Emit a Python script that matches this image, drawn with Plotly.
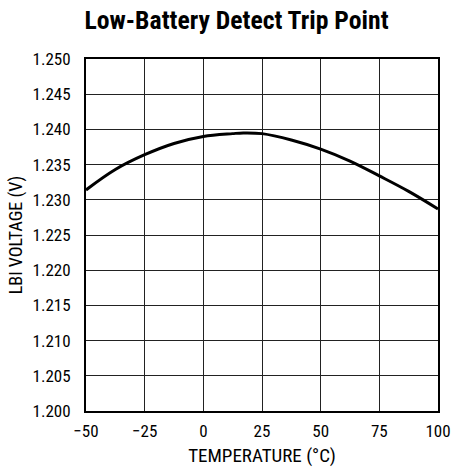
import plotly.graph_objects as go

temperature = [-50, -37.5, -25, -12.5, 0, 12.5, 17, 25, 37.5, 50, 62.5, 75, 87.5, 100]
lbi_voltage = [1.2314, 1.2343, 1.2364, 1.2380, 1.2390, 1.2394, 1.2395, 1.2394, 1.2385, 1.2372, 1.2355, 1.2334, 1.2312, 1.2287]

x_ticks = [-50, -25, 0, 25, 50, 75, 100]
x_ticklabels = ["\u221250", "\u221225", "0", "25", "50", "75", "100"]
y_ticks = [1.200, 1.205, 1.210, 1.215, 1.220, 1.225, 1.230, 1.235, 1.240, 1.245, 1.250]
y_ticklabels = ["%.3f" % v for v in y_ticks]

FONT = "Liberation Sans Narrow, Roboto Condensed, Arial Narrow, Roboto, sans-serif"

fig = go.Figure()
fig.add_trace(go.Scatter(
    x=temperature, y=lbi_voltage, mode="lines",
    line=dict(color="black", width=3, shape="spline", smoothing=1.0),
    showlegend=False, hoverinfo="skip"))

fig.update_layout(
    width=454, height=472,
    margin=dict(l=86, r=16, t=59, b=61, autoexpand=False),
    paper_bgcolor="white", plot_bgcolor="white",
    font=dict(family=FONT, size=17, color="black"),
    title=dict(text="<b>Low-Battery Detect Trip Point</b>", x=0.521, xanchor="center",
               y=1 - 20 / 472, yanchor="middle", font=dict(family=FONT, size=25.7, color="black")),
)
fig.update_xaxes(
    range=[-50, 100], tickmode="array", tickvals=x_ticks, ticktext=x_ticklabels,
    showgrid=True, gridcolor="#222", gridwidth=1,
    showline=True, linecolor="black", linewidth=2, mirror=True,
    ticks="", zeroline=False, tickfont=dict(size=17), ticklabelstandoff=4,
    automargin=False,
    title=dict(text="TEMPERATURE (\u00b0C)", font=dict(size=19), standoff=8),
)
fig.update_yaxes(
    range=[1.200, 1.250], tickmode="array", tickvals=y_ticks, ticktext=y_ticklabels,
    showgrid=True, gridcolor="#222", gridwidth=1,
    showline=True, linecolor="black", linewidth=2, mirror=True,
    ticks="", zeroline=False, tickfont=dict(size=17), ticklabelstandoff=10,
    automargin=False,
    title=dict(text="LBI VOLTAGE (V)", font=dict(size=18), standoff=5),
)
fig.write_html("out.html",
               config={"displayModeBar": False},
               post_script="document.body.style.margin='0';document.body.style.overflow='hidden';")
